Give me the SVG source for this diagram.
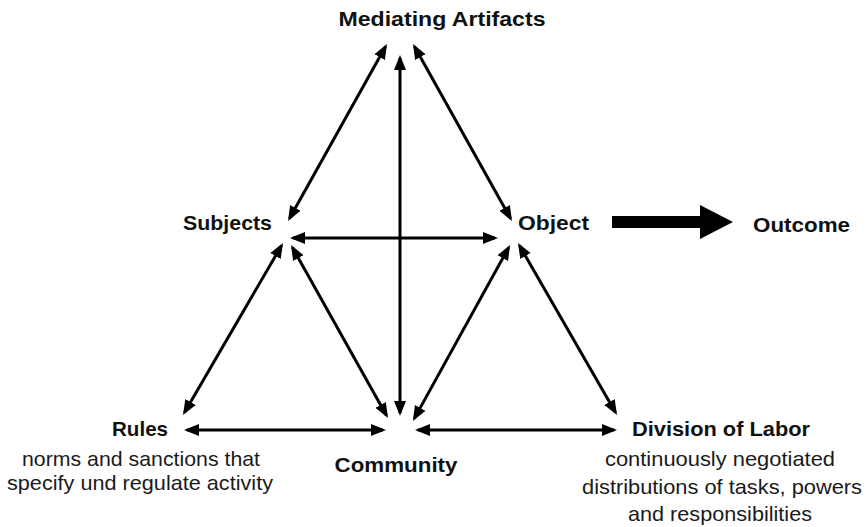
<svg xmlns="http://www.w3.org/2000/svg" width="867" height="527" viewBox="0 0 867 527">
  <style>
    .lbl { font-family: "Liberation Sans", Arial, sans-serif; font-weight: bold; font-size: 21px; fill: #111; text-anchor: middle; }
    .sub { font-family: "Liberation Sans", Arial, sans-serif; font-size: 21px; fill: #1a1a1a; text-anchor: middle; }
    .con { stroke: #000; stroke-width: 3; fill: none; marker-start: url(#ah); marker-end: url(#ah); }
  </style>
  <defs>
    <marker id="ah" markerUnits="userSpaceOnUse" markerWidth="16" markerHeight="13" refX="12" refY="6.5" orient="auto-start-reverse" viewBox="0 0 16 13">
      <path d="M0,0.5 L15,6.5 L0,12.5 z" fill="#000"/>
    </marker>
  </defs>
  <rect width="867" height="527" fill="#fff"/>

  <g id="connectors">
    <line class="con" x1="289.5" y1="218.4" x2="385.5" y2="46.6"/>
    <line class="con" x1="414.5" y1="46.6" x2="510.5" y2="218.4"/>
    <line class="con" x1="400" y1="58" x2="400" y2="413"/>
    <line class="con" x1="293" y1="238" x2="495" y2="238"/>
    <line class="con" x1="184.5" y1="412.4" x2="281.5" y2="245.6"/>
    <line class="con" x1="292.5" y1="247.6" x2="386.5" y2="415.4"/>
    <line class="con" x1="414.4" y1="418.4" x2="508.6" y2="247.6"/>
    <line class="con" x1="519.5" y1="245.6" x2="615.5" y2="412.4"/>
    <line class="con" x1="187" y1="430" x2="383" y2="430"/>
    <line class="con" x1="418" y1="430" x2="614" y2="430"/>
    <polygon points="612,216 700,216 700,205 733,222 700,239 700,228 612,228" fill="#000"/>
  </g>

  <g id="mediating-artifacts">
    <text class="lbl" x="442" y="26" textLength="207" lengthAdjust="spacingAndGlyphs">Mediating Artifacts</text>
  </g>
  <g id="subjects">
    <text class="lbl" x="227.5" y="230" textLength="89" lengthAdjust="spacingAndGlyphs">Subjects</text>
  </g>
  <g id="object">
    <text class="lbl" x="553.5" y="230" textLength="71" lengthAdjust="spacingAndGlyphs">Object</text>
  </g>
  <g id="outcome">
    <text class="lbl" x="801.5" y="232" textLength="97" lengthAdjust="spacingAndGlyphs">Outcome</text>
  </g>
  <g id="rules">
    <text class="lbl" x="140" y="436" textLength="56" lengthAdjust="spacingAndGlyphs">Rules</text>
    <text class="sub" x="141" y="466" textLength="238" lengthAdjust="spacingAndGlyphs">norms and sanctions that</text>
    <text class="sub" x="140" y="490" textLength="266" lengthAdjust="spacingAndGlyphs">specify und regulate activity</text>
  </g>
  <g id="community">
    <text class="lbl" x="396" y="472" textLength="123" lengthAdjust="spacingAndGlyphs">Community</text>
  </g>
  <g id="division-of-labor">
    <text class="lbl" x="721" y="436" textLength="178" lengthAdjust="spacingAndGlyphs">Division of Labor</text>
    <text class="sub" x="720" y="466" textLength="230" lengthAdjust="spacingAndGlyphs">continuously negotiated</text>
    <text class="sub" x="722" y="494" textLength="280" lengthAdjust="spacingAndGlyphs">distributions of tasks, powers</text>
    <text class="sub" x="720" y="521" textLength="184" lengthAdjust="spacingAndGlyphs">and responsibilities</text>
  </g>
</svg>
